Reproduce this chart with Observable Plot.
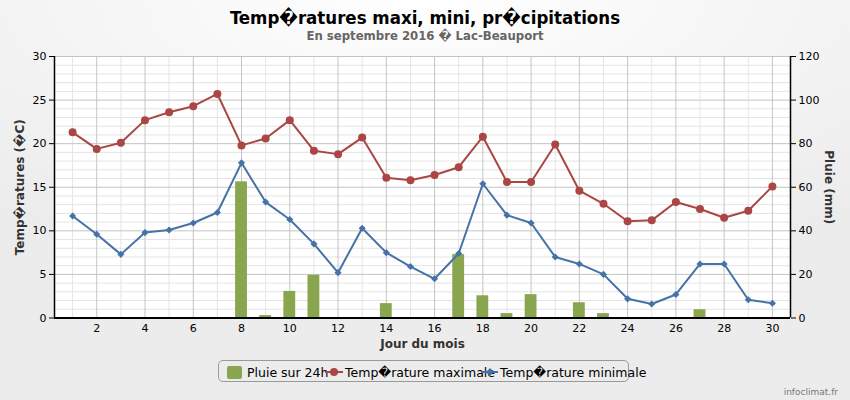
<!DOCTYPE html>
<html>
<head>
<meta charset="utf-8">
<script src="https://cdn.jsdelivr.net/npm/d3@7"></script>
<script src="https://cdn.jsdelivr.net/npm/@observablehq/plot@0.6"></script>
<style>
  html, body { margin: 0; padding: 0; }
  body {
    width: 850px; height: 400px; position: relative; overflow: hidden;
    font-family: "DejaVu Sans", sans-serif;
    background: radial-gradient(ellipse 700px 260px at 425px 0px, #ffffff 0%, #f3f3f3 60%, #ececec 100%);
  }
  #title {
    position: absolute; top: 7px; left: 0; width: 850px; text-align: center;
    font-family: "DejaVu Sans Condensed", "DejaVu Sans", sans-serif; font-stretch: condensed;
    font-weight: bold; font-size: 18.5px; color: #000;
  }
  #subtitle {
    position: absolute; top: 28px; left: 0; width: 850px; text-align: center;
    font-family: "DejaVu Sans Condensed", "DejaVu Sans", sans-serif; font-stretch: condensed;
    font-weight: bold; font-size: 13px; color: #666;
  }
  #chart { position: absolute; top: 40px; left: 0; }
  #legend {
    position: absolute; left: 218px; top: 360px; width: 411px; height: 22px;
    border: 1px solid #999; border-radius: 5px; box-sizing: border-box;
  }
  .item { position: absolute; top: 0; height: 22px; display: flex; align-items: center; font-size: 12.5px; color: #000; white-space: nowrap; }
  .item svg { display: block; }
  #credit { position: absolute; right: 12px; top: 387px; font-size: 9px; color: #777; }
</style>
</head>
<body>
<div id="title"></div>
<div id="subtitle"></div>
<div id="chart"></div>
<div id="legend"></div>
<div id="credit">infoclimat.fr</div>
<script>
const R = "\uFFFD";
const titleText = `Temp${R}ratures maxi, mini, pr${R}cipitations`;
const subtitleText = `En septembre 2016 ${R} Lac-Beauport`;
const xLabel = "Jour du mois";
const yLabelLeft = `Temp${R}ratures (${R}C)`;
const yLabelRight = "Pluie (mm)";
const seriesNames = ["Pluie sur 24h", `Temp${R}rature maximale`, `Temp${R}rature minimale`];

const days = [1,2,3,4,5,6,7,8,9,10,11,12,13,14,15,16,17,18,19,20,21,22,23,24,25,26,27,28,29,30];
const tmax = [21.3,19.4,20.1,22.7,23.6,24.3,25.7,19.8,20.6,22.7,19.2,18.8,20.7,16.1,15.8,16.4,17.3,20.8,15.6,15.6,19.9,14.6,13.1,11.1,11.2,13.3,12.5,11.5,12.3,15.1];
const tmin = [11.7,9.6,7.3,9.8,10.1,10.9,12.1,17.8,13.3,11.3,8.5,5.2,10.3,7.5,5.9,4.5,7.4,15.4,11.8,10.9,7.0,6.2,5.0,2.2,1.6,2.7,6.2,6.2,2.1,1.7];
const rain = [0,0,0,0,0,0,0,62.5,1.1,12.2,19.6,0,0,6.6,0,0,29.1,10.2,2.0,10.7,0,7.0,2.0,0,0,0,3.8,0,0,0];

const xTicks = [2,4,6,8,10,12,14,16,18,20,22,24,26,28,30];
const xMinor = [1,3,5,7,9,11,13,15,17,19,21,23,25,27,29];
const yTicks = [0,5,10,15,20,25,30];
const yMinor = [1,2,3,4,6,7,8,9,11,12,13,14,16,17,18,19,21,22,23,24,26,27,28,29];
const rainTicks = [0,20,40,60,80,100,120];

const colors = { rain: "#89A54E", max: "#AA4643", min: "#4572A7" };
const xDomain = [0.25, 30.75];
const rainPerDeg = 4;

const table = days.map((d, i) => ({ day: d, tmax: tmax[i], tmin: tmin[i], rain: rain[i] }));

document.getElementById("title").textContent = titleText;
document.getElementById("subtitle").textContent = subtitleText;

const plot = Plot.plot({
  width: 850, height: 315,
  marginTop: 16, marginLeft: 54, marginRight: 60, marginBottom: 37.5,
  style: { background: "transparent", fontFamily: "DejaVu Sans", fontSize: "11px", color: "#000" },
  x: { domain: xDomain, axis: null },
  y: { domain: [0, 30], axis: null },
  marks: [
    Plot.frame({ fill: "white", stroke: "none" }),
    Plot.gridY(yMinor, { stroke: "#e4e4e4", strokeOpacity: 1 }),
    Plot.gridX(xMinor, { stroke: "#e4e4e4", strokeOpacity: 1 }),
    Plot.gridY(yTicks, { stroke: "#c4c4c4", strokeOpacity: 1 }),
    Plot.gridX(xTicks, { stroke: "#c4c4c4", strokeOpacity: 1 }),
    Plot.rect(table.filter(d => d.rain > 0), {
      x1: d => d.day - 0.245, x2: d => d.day + 0.245,
      y1: 0, y2: d => d.rain / rainPerDeg, fill: colors.rain
    }),
    Plot.ruleX([xDomain[0]], { stroke: "#000", strokeWidth: 1.5 }),
    Plot.ruleX([xDomain[1]], { stroke: "#000", strokeWidth: 1.5 }),
    Plot.ruleY([0], { stroke: "#000", strokeWidth: 2 }),
    Plot.axisY(yTicks, { anchor: "left", tickSize: 5, tickPadding: 3, label: null, fontSize: 11 }),
    Plot.axisY(rainTicks.map(r => r / rainPerDeg), { anchor: "right", tickSize: 5, tickPadding: 3, label: null, tickFormat: d => d * rainPerDeg, fontSize: 11 }),
    Plot.axisX(xTicks, { anchor: "bottom", tickSize: 0, tickPadding: 6, label: null, fontSize: 11 }),
    Plot.line(table, { x: "day", y: "tmax", stroke: colors.max, strokeWidth: 2 }),
    Plot.dot(table, { x: "day", y: "tmax", fill: colors.max, r: 4, symbol: "circle" }),
    Plot.line(table, { x: "day", y: "tmin", stroke: colors.min, strokeWidth: 2 }),
    Plot.dot(table, { x: "day", y: "tmin", fill: colors.min, r: 3.2, symbol: "diamond2" }),
    Plot.text([xLabel], { frameAnchor: "bottom", dy: 26, lineAnchor: "middle", fontWeight: "bold", fontSize: 12, fill: "#333" }),
    Plot.text([yLabelLeft], { frameAnchor: "left", dx: -34, rotate: -90, textAnchor: "middle", lineAnchor: "middle", fontWeight: "bold", fontSize: 12, fill: "#333" }),
    Plot.text([yLabelRight], { frameAnchor: "right", dx: 38, rotate: 90, textAnchor: "middle", lineAnchor: "middle", fontWeight: "bold", fontSize: 12, fill: "#333" })
  ]
});
document.getElementById("chart").appendChild(plot);

// Legend
const legend = document.getElementById("legend");
const lefts = [8, 104, 261];
seriesNames.forEach((name, i) => {
  const item = document.createElement("div");
  item.className = "item";
  item.style.left = lefts[i] + "px";
  let sym;
  if (i === 0) {
    sym = `<svg width="20" height="14"><rect x="0" y="1" width="15" height="13" rx="2" fill="${colors.rain}"/></svg>`;
  } else if (i === 1) {
    sym = `<svg width="22" height="14"><line x1="2" y1="7" x2="20" y2="7" stroke="${colors.max}" stroke-width="2"/><circle cx="11" cy="7" r="4" fill="${colors.max}"/></svg>`;
  } else {
    sym = `<svg width="20" height="14"><line x1="2" y1="7" x2="18" y2="7" stroke="${colors.min}" stroke-width="2"/><path d="M10,3 L14,7 L10,11 L6,7 Z" fill="${colors.min}"/></svg>`;
  }
  item.innerHTML = sym + `<span>${name}</span>`;
  legend.appendChild(item);
});
</script>
</body>
</html>
